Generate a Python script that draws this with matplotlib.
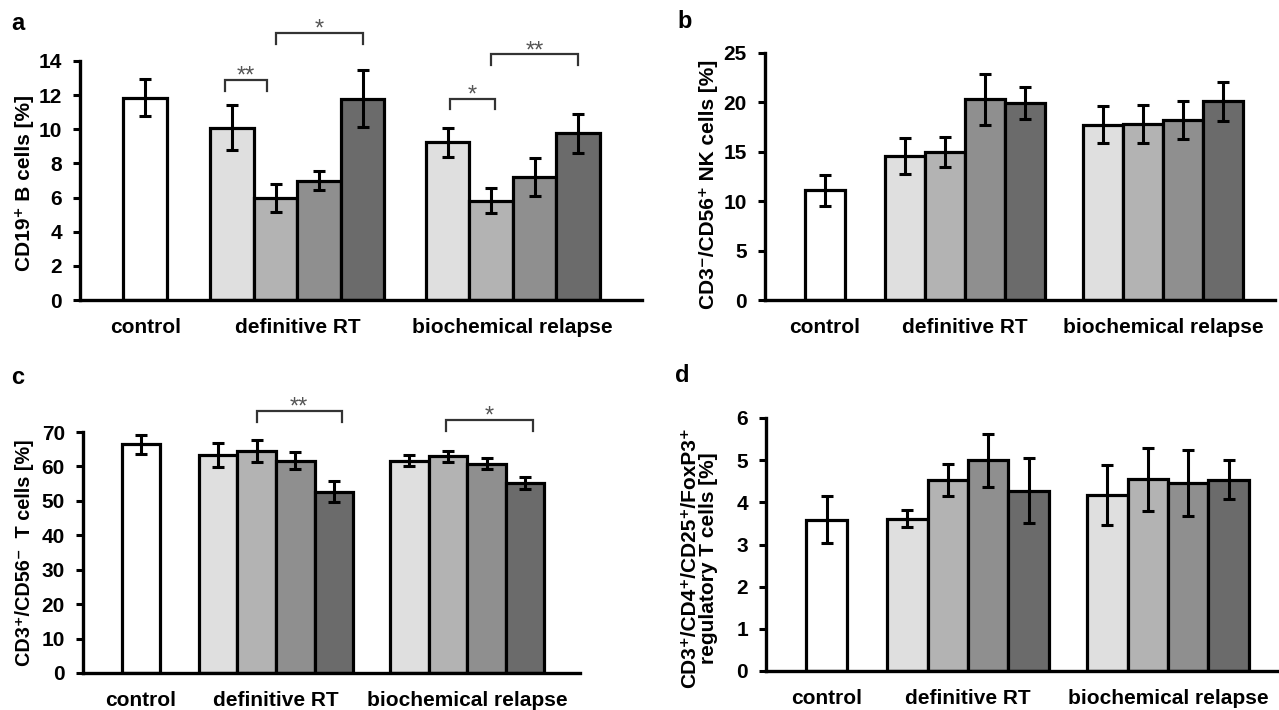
import matplotlib
matplotlib.use("Agg")
import matplotlib.pyplot as plt

plt.rcParams['font.family'] = ['Liberation Sans', 'DejaVu Sans']
plt.rcParams['font.weight'] = 'bold'

W, H = 1279, 710

groups = ["control", "definitive RT", "biochemical relapse"]
shades = ["#dfdfdf", "#b3b3b3", "#8f8f8f", "#6b6b6b"]

# panel a: CD19+ B cells
b_ctrl, b_ctrl_err = 11.85, 1.1
b_def = [10.1, 5.98, 7.0, 11.8]
b_def_err = [1.3, 0.8, 0.55, 1.65]
b_bio = [9.24, 5.82, 7.2, 9.77]
b_bio_err = [0.85, 0.75, 1.1, 1.15]

# panel b: NK cells
nk_ctrl, nk_ctrl_err = 11.1, 1.6
nk_def = [14.6, 15.0, 20.3, 19.95]
nk_def_err = [1.8, 1.5, 2.6, 1.65]
nk_bio = [17.75, 17.8, 18.2, 20.1]
nk_bio_err = [1.85, 1.9, 1.9, 2.0]

# panel c: T cells
t_ctrl, t_ctrl_err = 66.4, 2.65
t_def = [63.4, 64.5, 61.7, 52.7]
t_def_err = [3.5, 3.1, 2.5, 3.1]
t_bio = [61.7, 62.9, 60.85, 55.2]
t_bio_err = [1.6, 1.6, 1.7, 1.7]

# panel d: regulatory T cells
tr_ctrl, tr_ctrl_err = 3.59, 0.56
tr_def = [3.61, 4.52, 5.0, 4.28]
tr_def_err = [0.2, 0.38, 0.63, 0.78]
tr_bio = [4.17, 4.55, 4.46, 4.54]
tr_bio_err = [0.71, 0.75, 0.78, 0.47]

# significance brackets: (group, bar i, bar j, height, label)
sig_a = [(1, 0, 1, 12.9, "**"), (1, 1, 3, 15.64, "*"),
         (2, 0, 1, 11.8, "*"), (2, 1, 3, 14.4, "**")]
sig_c = [(1, 1, 3, 76.1, "**"), (2, 1, 3, 73.5, "*")]

ctrl_pos = 1.5
group_pos = [5.0, 9.95]


def make_axes(left, top, right, bottom):
    return fig.add_axes([left / W, 1 - bottom / H, (right - left) / W, (bottom - top) / H])


def draw_panel(ax, ctrl, ctrl_err, defi, defi_err, bio, bio_err, ymax, step, xmax):
    ekw = dict(elinewidth=2.2, capthick=2.2, ecolor="black")
    ax.bar([ctrl_pos], [ctrl], width=1.0, color="white", edgecolor="black",
           linewidth=2.3, yerr=[ctrl_err], capsize=4, error_kw=ekw, zorder=2)
    for c, vals, errs in zip(group_pos, [defi, bio], [defi_err, bio_err]):
        xs = [c - 1.5 + i for i in range(4)]
        ax.bar(xs, vals, width=1.0, color=shades, edgecolor="black",
               linewidth=2.3, yerr=errs, capsize=4, error_kw=ekw, zorder=2)
    ax.set_xlim(0, xmax)
    ax.set_ylim(0, ymax)
    ax.set_yticks(range(0, ymax + 1, step))
    ax.set_xticks([ctrl_pos] + group_pos, groups)
    for s in ["top", "right"]:
        ax.spines[s].set_visible(False)
    for s in ["left", "bottom"]:
        ax.spines[s].set_linewidth(2.4)
    ax.tick_params(axis="x", length=0, pad=13, labelsize=15)
    ax.tick_params(axis="y", length=5, width=2.2, direction="out", pad=8, labelsize=15)


def draw_sig(ax, sigs, ymax, offs):
    drop = 0.045 * ymax
    for (g, i, j, h, lab), (d0, d1) in zip(sigs, offs):
        c = group_pos[g - 1]
        x0 = c - 1.5 + i + d0
        x1 = c - 1.5 + j + d1
        ax.plot([x0, x0, x1, x1], [h - drop, h, h, h - drop], color="#333333",
                lw=1.6, clip_on=False, solid_joinstyle="miter")
        ax.text((x0 + x1) / 2, h - 0.012 * ymax, lab, ha="center", va="baseline",
                fontsize=17, fontweight="normal", color="#555555")


fig = plt.figure(figsize=(W / 100, H / 100), dpi=100)

ax_a = make_axes(80, 61, 642, 300)
draw_panel(ax_a, b_ctrl, b_ctrl_err, b_def, b_def_err, b_bio, b_bio_err, 14, 2, 12.92)
draw_sig(ax_a, sig_a, 14, [(-0.17, -0.2), (0.0, 0.0), (0.05, 0.1), (0.0, 0.0)])

ax_b = make_axes(765, 53, 1275, 300)
draw_panel(ax_b, nk_ctrl, nk_ctrl_err, nk_def, nk_def_err, nk_bio, nk_bio_err, 25, 5, 12.75)

ax_c = make_axes(83, 432, 580, 673)
draw_panel(ax_c, t_ctrl, t_ctrl_err, t_def, t_def_err, t_bio, t_bio_err, 70, 10, 12.87)
draw_sig(ax_c, sig_c, 70, [(0.0, 0.2), (-0.05, 0.2)])

ax_d = make_axes(766, 418, 1279, 671)
draw_panel(ax_d, tr_ctrl, tr_ctrl_err, tr_def, tr_def_err, tr_bio, tr_bio_err, 6, 1, 12.7)

fig.text(24 / W, 1 - 183 / H, "CD19⁺ B cells [%]", rotation=90, ha="center", va="center", fontsize=15)
fig.text(708 / W, 1 - 184 / H, "CD3⁻/CD56⁺ NK cells [%]", rotation=90, ha="center", va="center", fontsize=15)
fig.text(24 / W, 1 - 553 / H, "CD3⁺/CD56⁻  T cells [%]", rotation=90, ha="center", va="center", fontsize=14.3)
fig.text(699 / W, 1 - 558 / H, "CD3⁺/CD4⁺/CD25⁺/FoxP3⁺\nregulatory T cells [%]", rotation=90,
         ha="center", va="center", fontsize=15, linespacing=0.95)

for lab, x, y in [("a", 18, 24), ("b", 685, 22), ("c", 18, 378), ("d", 682, 375)]:
    fig.text(x / W, 1 - y / H, lab, ha="center", va="center", fontsize=17)

fig.savefig("out.png", dpi=100)
